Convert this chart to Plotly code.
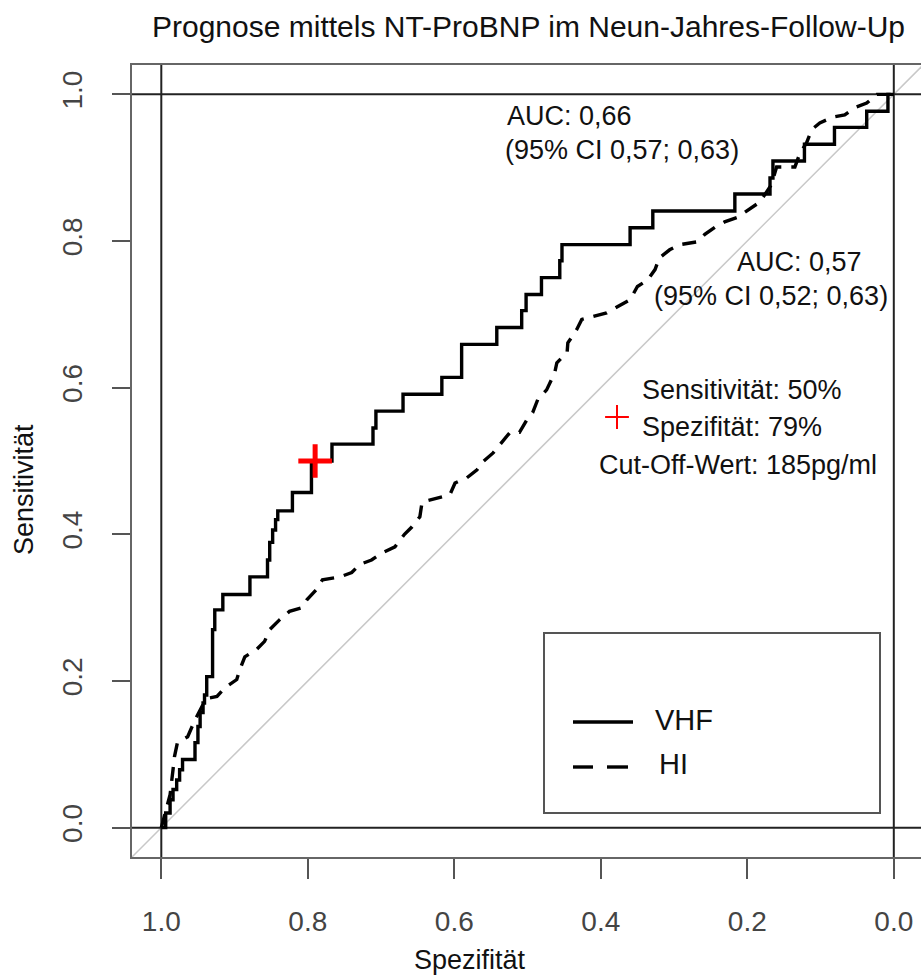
import plotly.graph_objects as go

# ROC curve of NT-ProBNP for VHF (step corners: specificity, sensitivity)
vhf_spec = [1.000, 0.994, 0.988, 0.984, 0.979, 0.975, 0.971, 0.954, 0.950, 0.947,
            0.943, 0.941, 0.938, 0.930, 0.927, 0.916, 0.879, 0.855, 0.852, 0.848,
            0.844, 0.841, 0.821, 0.795, 0.767, 0.711, 0.707, 0.670, 0.617, 0.590,
            0.542, 0.508, 0.502, 0.481, 0.456, 0.453, 0.360, 0.329, 0.217, 0.169,
            0.165, 0.122, 0.081, 0.037, 0.008, 0.000]
vhf_sens = [0.000, 0.020, 0.038, 0.052, 0.065, 0.079, 0.093, 0.116, 0.138, 0.157,
            0.170, 0.181, 0.206, 0.270, 0.297, 0.318, 0.342, 0.365, 0.389, 0.406,
            0.420, 0.432, 0.457, 0.500, 0.523, 0.545, 0.568, 0.591, 0.614, 0.659,
            0.682, 0.705, 0.727, 0.750, 0.773, 0.795, 0.818, 0.841, 0.864, 0.886,
            0.909, 0.932, 0.955, 0.977, 1.000, 1.000]

# ROC curve of NT-ProBNP for HI
hi_spec = [1.000, 0.994, 0.988, 0.984, 0.982, 0.978, 0.964, 0.954, 0.943, 0.934,
           0.924, 0.913, 0.897, 0.893, 0.886, 0.870, 0.859, 0.852, 0.838, 0.825,
           0.808, 0.801, 0.788, 0.780, 0.756, 0.740, 0.729, 0.713, 0.698, 0.681,
           0.668, 0.658, 0.647, 0.644, 0.623, 0.606, 0.599, 0.583, 0.569, 0.561,
           0.547, 0.538, 0.524, 0.511, 0.501, 0.493, 0.486, 0.474, 0.463, 0.460,
           0.446, 0.445, 0.433, 0.426, 0.401, 0.392, 0.378, 0.360, 0.350, 0.336,
           0.326, 0.320, 0.306, 0.292, 0.268, 0.258, 0.244, 0.231, 0.214, 0.197,
           0.183, 0.167, 0.160, 0.135, 0.128, 0.119, 0.112, 0.101, 0.083, 0.067,
           0.053, 0.037, 0.023, 0.000]
hi_sens = [0.000, 0.022, 0.045, 0.079, 0.097, 0.116, 0.124, 0.147, 0.168, 0.177,
           0.179, 0.191, 0.202, 0.215, 0.233, 0.243, 0.254, 0.270, 0.284, 0.295,
           0.300, 0.311, 0.325, 0.338, 0.342, 0.348, 0.359, 0.365, 0.375, 0.383,
           0.400, 0.410, 0.424, 0.444, 0.450, 0.454, 0.470, 0.477, 0.488, 0.499,
           0.511, 0.522, 0.539, 0.539, 0.556, 0.566, 0.584, 0.597, 0.620, 0.634,
           0.648, 0.661, 0.679, 0.693, 0.699, 0.702, 0.710, 0.720, 0.738, 0.747,
           0.761, 0.777, 0.788, 0.795, 0.799, 0.809, 0.819, 0.826, 0.832, 0.843,
           0.853, 0.877, 0.901, 0.901, 0.920, 0.934, 0.952, 0.961, 0.969, 0.972,
           0.982, 0.988, 1.000, 1.000]

# Optimal cut-off point (185 pg/ml)
cut_spec = [0.79]
cut_sens = [0.50]

tick_vals = [1.0, 0.8, 0.6, 0.4, 0.2, 0.0]
tick_text = ["1.0", "0.8", "0.6", "0.4", "0.2", "0.0"]

FONT = "Liberation Sans, Arial, sans-serif"

# plot area in pixels
L, R, T, B = 132, 921, 65, 857
W, H = 921, 977
X_RANGE = [1.04, 1.04 - (R - L) / 732.5]
Y_RANGE = [-0.04, 1.04]


def px(x):
    return (x - L) / (R - L)


def py(y):
    return (B - y) / (B - T)


def dx(x):
    return X_RANGE[0] + (x - L) / (R - L) * (X_RANGE[1] - X_RANGE[0])


def dy(y):
    return Y_RANGE[0] + (B - y) / (B - T) * (Y_RANGE[1] - Y_RANGE[0])


fig = go.Figure()

fig.add_trace(go.Scatter(
    x=hi_spec, y=hi_sens, mode="lines",
    line=dict(color="black", width=3.4, dash="14px,10px"),
    showlegend=False, hoverinfo="skip"))

fig.add_trace(go.Scatter(
    x=vhf_spec, y=vhf_sens, mode="lines",
    line=dict(color="black", width=3.4, shape="hv"),
    showlegend=False, hoverinfo="skip"))

fig.add_trace(go.Scatter(
    x=cut_spec, y=cut_sens, mode="markers",
    marker=dict(symbol="cross-thin", size=24, color="red",
                line=dict(color="red", width=5)),
    showlegend=False, hoverinfo="skip"))

# small cross next to the cut-off description
fig.add_trace(go.Scatter(
    x=[dx(617)], y=[dy(417)], mode="markers",
    marker=dict(symbol="cross-thin", size=17, color="red",
                line=dict(color="red", width=2)),
    showlegend=False, hoverinfo="skip"))

shapes = [
    # chance diagonal
    dict(type="line", xref="x", yref="y", x0=1.04, y0=-0.04, x1=-0.04, y1=1.04,
         line=dict(color="#c8c8c8", width=1.5), layer="below"),
    # reference lines at 0 and 1
    dict(type="line", xref="x", yref="y", x0=1, x1=1, y0=-0.04, y1=1.04,
         line=dict(color="#222", width=2), layer="below"),
    dict(type="line", xref="x", yref="y", x0=0, x1=0, y0=-0.04, y1=1.04,
         line=dict(color="#222", width=2), layer="below"),
    dict(type="line", xref="x", yref="y", x0=1.04, x1=-0.04, y0=0, y1=0,
         line=dict(color="#222", width=2), layer="below"),
    dict(type="line", xref="x", yref="y", x0=1.04, x1=-0.04, y0=1, y1=1,
         line=dict(color="#222", width=2), layer="below"),
    # legend box
    dict(type="rect", xref="paper", yref="paper", x0=px(544), x1=px(880),
         y0=py(813), y1=py(633), line=dict(color="#555", width=2),
         fillcolor="white"),
    dict(type="line", xref="paper", yref="paper", x0=px(573), x1=px(633),
         y0=py(722), y1=py(722), line=dict(color="black", width=3.4)),
    dict(type="line", xref="paper", yref="paper", x0=px(573), x1=px(593),
         y0=py(767), y1=py(767), line=dict(color="black", width=3.4)),
    dict(type="line", xref="paper", yref="paper", x0=px(607), x1=px(628),
         y0=py(767), y1=py(767), line=dict(color="black", width=3.4)),
]


def note(text, x, y, size=27, anchor="left", angle=0, color="#111"):
    return dict(text=text, xref="paper", yref="paper", x=px(x), y=py(y),
                xanchor=anchor, yanchor="middle", showarrow=False,
                textangle=angle, font=dict(family=FONT, size=size, color=color))


annotations = [
    note("Prognose mittels NT-ProBNP im Neun-Jahres-Follow-Up", 528, 27,
         size=30, anchor="center"),
    note("Spezifität", 412, 960, size=27),
    note("Sensitivität", 24, 490, size=27, anchor="center", angle=-90),
    note("AUC: 0,66", 505, 116),
    note("(95% CI 0,57; 0,63)", 503, 150),
    note("AUC: 0,57", 735, 262),
    note("(95% CI 0,52; 0,63)", 652, 296),
    note("Sensitivität: 50%", 640, 390),
    note("Spezifität: 79%", 640, 427),
    note("Cut-Off-Wert: 185pg/ml", 597, 465),
    note("VHF", 653, 720, size=29),
    note("HI", 657, 764, size=29),
]

fig.update_layout(
    width=W, height=H,
    margin=dict(l=L, r=W - R, t=T, b=H - B, pad=0),
    paper_bgcolor="white", plot_bgcolor="white",
    font=dict(family=FONT),
    shapes=shapes, annotations=annotations,
    showlegend=False,
    xaxis=dict(range=X_RANGE, tickvals=tick_vals, ticktext=tick_text,
               ticks="outside", ticklen=20, tickwidth=1.5, tickcolor="#555",
               showline=True, linecolor="#666", linewidth=2, mirror=True,
               showgrid=False, zeroline=False, ticklabelstandoff=18,
               tickfont=dict(family=FONT, size=28, color="#444")),
    yaxis=dict(range=Y_RANGE, tickvals=tick_vals, ticktext=tick_text,
               tickangle=-90,
               ticks="outside", ticklen=18, tickwidth=1.5, tickcolor="#555",
               showline=True, linecolor="#666", linewidth=2, mirror=False,
               showgrid=False, zeroline=False, ticklabelstandoff=19,
               tickfont=dict(family=FONT, size=28, color="#444")),
)

fig.write_html("out.html")
